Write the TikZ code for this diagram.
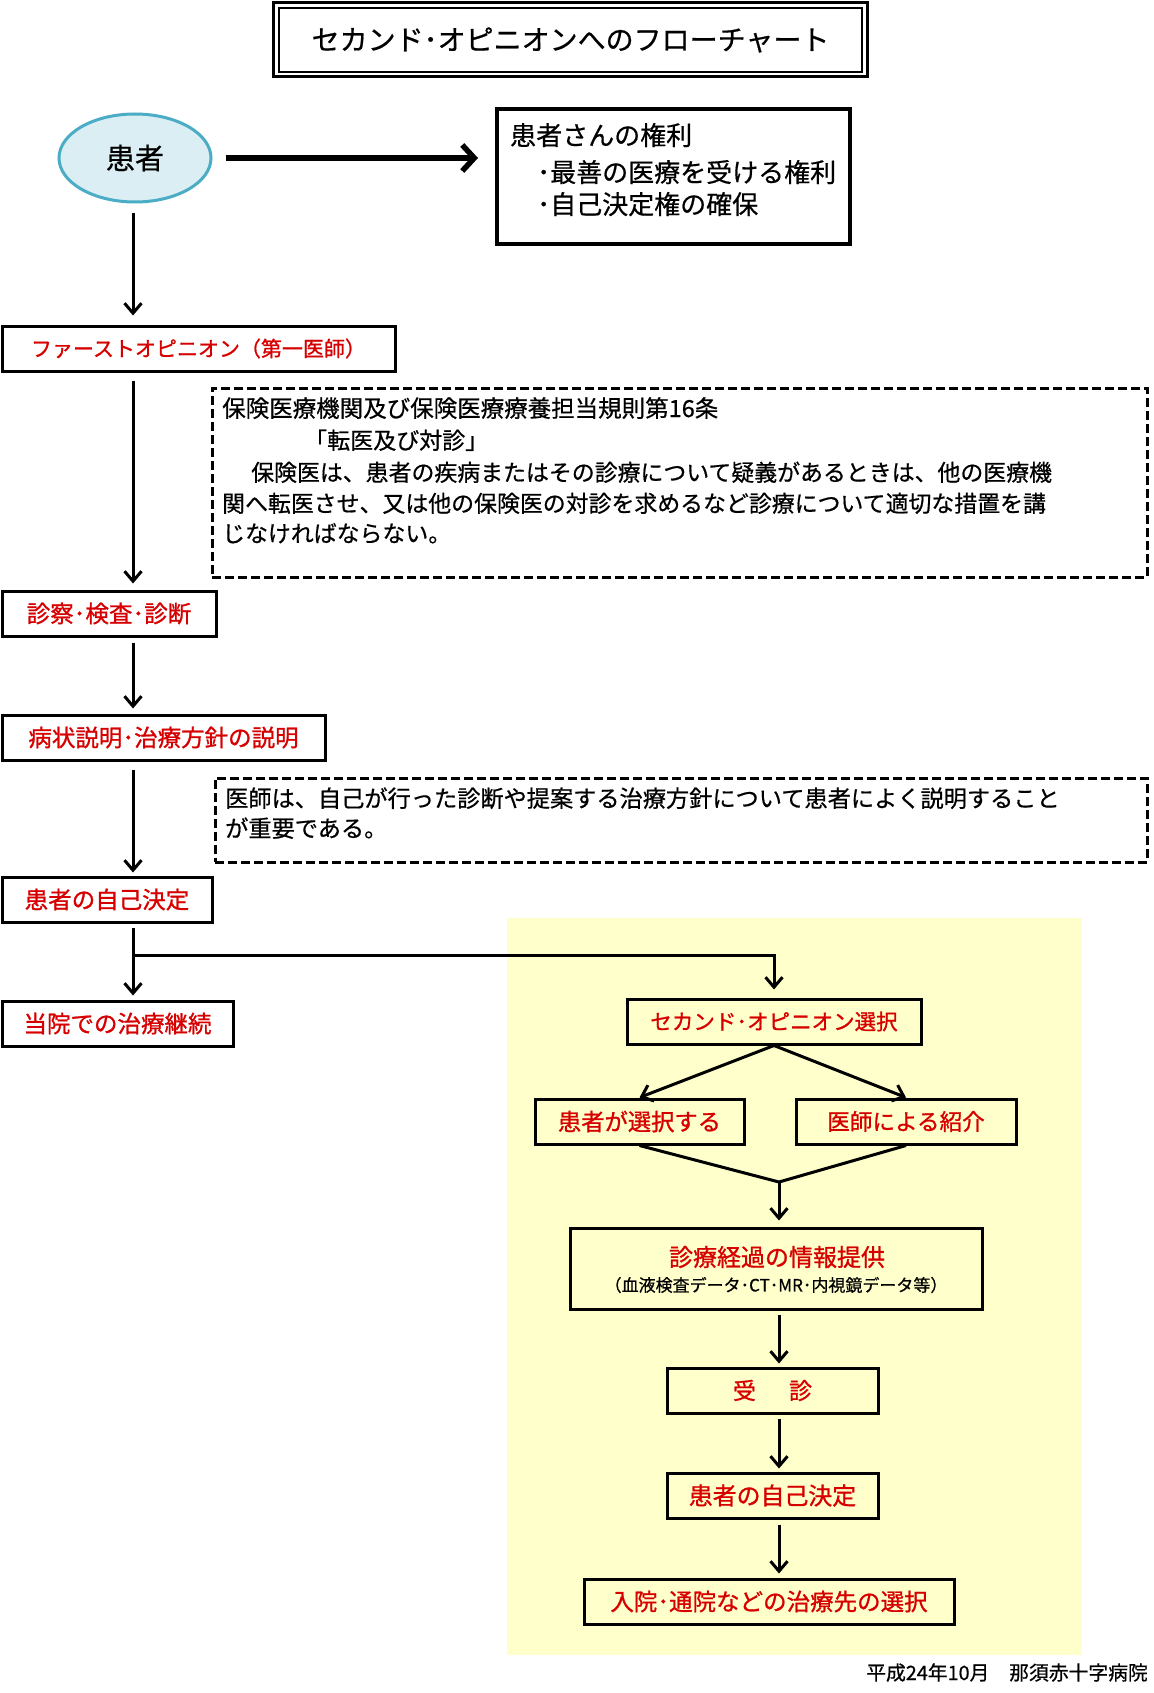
\documentclass[tikz,border=0pt]{standalone}
\usepackage{fontspec}
\newfontfamily\jpfont{Noto Sans CJK JP}[FakeBold=0.6]
\newfontfamily\jpredfont{Noto Sans CJK JP}[FakeBold=1.0]
\newcommand{\jpsz}[1]{\jpfont\fontsize{#1}{#1}\selectfont}
\newcommand{\jprsz}[1]{\jpredfont\fontsize{#1}{#1}\selectfont}
\usetikzlibrary{arrows.meta,shapes.geometric}
\definecolor{redtxt}{RGB}{215,0,0}
\definecolor{ellfill}{RGB}{218,238,243}
\definecolor{elldraw}{RGB}{75,172,198}
\definecolor{panel}{RGB}{255,255,204}
\begin{document}
\begin{tikzpicture}[x=1pt,y=-1pt,
  redbox/.style={draw, line width=3pt, text=redtxt, inner sep=0pt},
  plainbox/.style={draw, line width=3pt, inner sep=0pt},
  notebox/.style={draw, line width=2.6pt, dash pattern=on 9pt off 4pt, inner sep=0pt, anchor=north west},
  txtline/.style={anchor=base west, inner sep=0pt},
  conn/.style={line width=3pt, line join=miter},
  arr/.style={line width=3pt, -{Straight Barb[length=10pt,width=17pt]}},
  thickarr/.style={line width=5.5pt, -{Straight Barb[length=12pt,width=26pt]}}
]
\useasboundingbox (0,0) rectangle (1153,1693);
\fill[white] (0,0) rectangle (1153,1693);
% yellow panel
\fill[panel] (507,918) rectangle (1082,1655);

% title
\node[plainbox, minimum width=594pt, minimum height=74pt] (ttlo) at (570,40) {};
\node[draw, line width=1.5pt, inner sep=0pt, minimum width=583pt, minimum height=64pt, font=\jpsz{28}] (ttl) at (570.5,40) {セカンド･オピニオンへのフローチャート};

% patient ellipse
\node[ellipse, draw=elldraw, fill=ellfill, line width=3pt, minimum width=152pt, minimum height=88pt, inner sep=0pt, font=\jpsz{29}] (pt) at (135,158) {患者};

% rights box
\node[draw, line width=4pt, minimum width=353pt, minimum height=135pt, inner sep=0pt] (rights) at (673.5,176.5) {};
\node[txtline, font=\jpsz{26}] (r1) at (510,145) {患者さんの権利};
\node[txtline, font=\jpsz{26}] (r2) at (537,182) {･最善の医療を受ける権利};
\node[txtline, font=\jpsz{26}] (r3) at (537,214) {･自己決定権の確保};

\draw[thickarr, shorten <=13pt, shorten >=17pt] (pt.east) -- (pt.east -| rights.west);

% left column
\coordinate (colL) at (133,0);
\node[redbox, minimum width=393pt, minimum height=45pt, font=\jprsz{21}] (first) at (198.5,348.5) {ファーストオピニオン（第一医師）};
\node[redbox, minimum width=214pt, minimum height=45pt, font=\jprsz{23.5}] (shin) at (109,613.5) {診察･検査･診断};
\node[redbox, minimum width=323pt, minimum height=45pt, font=\jprsz{23.5}] (byo) at (163.5,737.5) {病状説明･治療方針の説明};
\node[redbox, minimum width=210pt, minimum height=45pt, font=\jprsz{23.5}] (jiko1) at (107,899.5) {患者の自己決定};
\node[redbox, minimum width=231pt, minimum height=45pt, font=\jprsz{23.5}] (toin) at (117.5,1023.5) {当院での治療継続};

\draw[arr, shorten <=10pt, shorten >=9pt] (pt.south -| colL) -- (first.north -| colL);
\draw[arr, shorten <=8pt, shorten >=6pt] (first.south -| colL) -- (shin.north -| colL);
\draw[arr, shorten <=5pt, shorten >=5pt] (shin.south -| colL) -- (byo.north -| colL);
\draw[arr, shorten <=8pt, shorten >=3pt] (byo.south -| colL) -- (jiko1.north -| colL);
\draw[arr, shorten <=4pt, shorten >=4pt] (jiko1.south -| colL) -- (toin.north -| colL);

% note 1
\node[notebox, minimum width=935pt, minimum height=189pt] (note1) at (211,387) {};
\node[txtline, font=\jpsz{23.5}] (n1a) at (222,417) {保険医療機関及び保険医療療養担当規則第16条};
\node[txtline, font=\jpsz{23}] (n1b) at (304,449) {「転医及び対診」};
\node[txtline, font=\jpsz{22.9}] (n1c) at (251,481) {保険医は、患者の疾病またはその診療について疑義があるときは、他の医療機};
\node[txtline, font=\jpsz{22.9}] (n1d) at (222,512) {関へ転医させ、又は他の保険医の対診を求めるなど診療について適切な措置を講};
\node[txtline, font=\jpsz{22.9}] (n1e) at (222,542) {じなければならない。};

% note 2
\node[notebox, minimum width=932pt, minimum height=84pt] (note2) at (214,777) {};
\node[txtline, font=\jpsz{23.2}] (n2a) at (225,807) {医師は、自己が行った診断や提案する治療方針について患者によく説明すること};
\node[txtline, font=\jpsz{23.2}] (n2b) at (225,837) {が重要である。};

% right column
\coordinate (colR) at (779,0);
\node[redbox, minimum width=294pt, minimum height=45pt, font=\jprsz{21.5}] (sec) at (774,1021.5) {セカンド･オピニオン選択};
\node[redbox, minimum width=209pt, minimum height=45pt, font=\jprsz{23.3}] (pat) at (639.5,1121.5) {患者が選択する};
\node[redbox, minimum width=220pt, minimum height=45pt, font=\jprsz{22.6}] (doc) at (906,1121.5) {医師による紹介};
\node[plainbox, minimum width=412pt, minimum height=81pt] (info) at (776,1268.5) {};
\node[inner sep=0pt, text=redtxt, font=\jprsz{24}] (info1) at (777,1257) {診療経過の情報提供};
\node[inner sep=0pt, font=\jpsz{17}] (info2) at (776,1285) {（血液検査データ･CT･MR･内視鏡データ等）};
\node[redbox, minimum width=211pt, minimum height=45pt, font=\jprsz{23}] (jushin) at (772.5,1390.5) {受\hspace{33pt}診};
\node[redbox, minimum width=211pt, minimum height=45pt, font=\jprsz{23.9}] (jiko2) at (772.5,1495.5) {患者の自己決定};
\node[redbox, minimum width=370pt, minimum height=45pt, font=\jprsz{23.5}] (nyuin) at (769,1601.5) {入院･通院などの治療先の選択};

\coordinate (brk) at (133,955);
\draw[arr, shorten >=8pt] (brk) -| (sec.north);
\draw[arr] (sec.south) -- (pat.north);
\draw[arr] (sec.south) -- (doc.north);
\coordinate (mrg) at (779,1182);
\draw[conn] (pat.south) -- (mrg) -- (doc.south);
\draw[arr, shorten >=6pt] (mrg) -- (info.north -| mrg);
\draw[arr, shorten <=4pt, shorten >=3pt] (info.south -| colR) -- (jushin.north -| colR);
\draw[arr, shorten <=4pt, shorten >=3pt] (jushin.south -| colR) -- (jiko2.north -| colR);
\draw[arr, shorten <=5pt, shorten >=4pt] (jiko2.south -| colR) -- (nyuin.north -| colR);

% footer
\node[anchor=base east, inner sep=0pt, font=\jpsz{19.8}] (foot) at (1148,1680) {平成24年10月　那須赤十字病院};
\end{tikzpicture}
\end{document}
